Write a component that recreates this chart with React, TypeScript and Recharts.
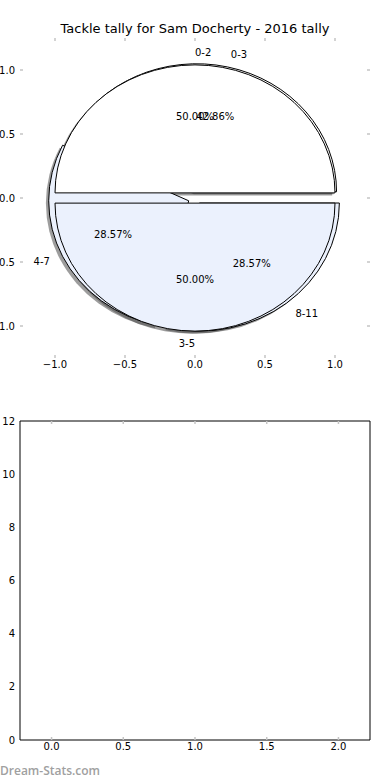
import React from 'react';
import { PieChart, Pie, Cell, ComposedChart, XAxis, YAxis, Bar } from 'recharts';

// pie 1 (drawn on top) and pie 2 (underneath)
const innerNames = ['0-2', '3-5'];
const innerValues = [1, 1];
const outerNames = ['0-3', '4-7', '8-11'];
const outerValues = [3, 2, 2];
const pieTicks = [-1, -0.5, 0, 0.5, 1];

// empty bar panel
const barCategories = [0, 1, 2];
const barValues = [0, 0, 0];
const barXTicks = [0, 0.5, 1, 1.5, 2];
const barYTicks = [0, 2, 4, 6, 8, 10, 12];

const innerData = innerNames.map((name, i) => ({ name, value: innerValues[i] }));
const outerData = outerNames.map((name, i) => ({ name, value: outerValues[i] }));
const barData = barCategories.map((x, i) => ({ x, value: barValues[i] }));
const pieAxisData = pieTicks.map((t) => ({ t }));

const innerColors = ['#ffffff', '#ebf1fd'];
const outerColors = ['#ffffff', '#ebf1fd', '#ebf1fd'];
const innerExplode = 0.04;
const outerExplode = 0.05;

const FONT = '"DejaVu Sans", sans-serif';
const TICK_GREY = '#c4c4c4';
// the pie axes are not square: 140px per unit across, 128px per unit up
const Y_RATIO = 128 / 140;
const RAD = Math.PI / 180;

const fmt1 = (v: number) => v.toFixed(1).replace('-', '\u2212');

function makeWedge(explode: number, shadow: boolean) {
  return (props: any) => {
    const { cx, cy, outerRadius: r, startAngle, endAngle, fill } = props;
    const ry = r * Y_RATIO;
    const mid = ((startAngle + endAngle) / 2) * RAD;
    let ox = cx + explode * r * Math.cos(mid);
    let oy = cy - explode * ry * Math.sin(mid);
    if (shadow) {
      ox -= 0.02 * r;
      oy += 0.02 * ry;
    }
    const a0 = startAngle * RAD;
    const a1 = endAngle * RAD;
    const x0 = ox + r * Math.cos(a0);
    const y0 = oy - ry * Math.sin(a0);
    const x1 = ox + r * Math.cos(a1);
    const y1 = oy - ry * Math.sin(a1);
    const large = endAngle - startAngle > 180 ? 1 : 0;
    const d = `M${ox},${oy} L${x0},${y0} A${r},${ry} 0 ${large} 0 ${x1},${y1} Z`;
    if (shadow) {
      return <path d={d} fill="#4d4d4d" fillOpacity={0.55} stroke="none" />;
    }
    return <path d={d} fill={fill} stroke="#000" strokeWidth={1} strokeLinejoin="round" />;
  };
}

function makeLabel(explode: number) {
  return (props: any) => {
    const { cx, cy, outerRadius: r, midAngle, percent, name } = props;
    const ry = r * Y_RATIO;
    const c = Math.cos(midAngle * RAD);
    const s = Math.sin(midAngle * RAD);
    const lx = cx + (1.1 + explode) * r * c;
    const ly = cy - (1.1 + explode) * ry * s;
    const px = cx + (0.6 + explode) * r * c;
    const py = cy - (0.6 + explode) * ry * s;
    return (
      <g>
        <text x={lx} y={ly} textAnchor={c > 0 ? 'start' : 'end'} dominantBaseline="central"
          fontSize={10} fontFamily={FONT} fill="#000">
          {name}
        </text>
        <text x={px} y={py} textAnchor="middle" dominantBaseline="central"
          fontSize={10} fontFamily={FONT} fill="#000">
          {(percent * 100).toFixed(2)}%
        </text>
      </g>
    );
  };
}

const nothing = () => <g />;

function PieAxes() {
  const tick = { fontSize: 10, fill: '#000', fontFamily: FONT };
  const grey = { stroke: TICK_GREY, strokeWidth: 1.5 };
  return (
    <ComposedChart width={390} height={400} data={pieAxisData} margin={{ top: 38, right: 20, bottom: 0, left: 0 }}>
      <XAxis xAxisId="b" dataKey="t" type="number" domain={[-1.25, 1.25]} ticks={pieTicks} tickFormatter={fmt1}
        height={42} axisLine={false} tickLine={false} tickSize={0} tickMargin={3} tick={tick} />
      <XAxis xAxisId="bt" dataKey="t" type="number" domain={[-1.25, 1.25]} ticks={pieTicks} mirror
        axisLine={false} tick={nothing} tickSize={3} tickLine={grey} />
      <XAxis xAxisId="t" dataKey="t" orientation="top" type="number" domain={[-1.25, 1.25]} ticks={pieTicks} mirror
        axisLine={false} tick={nothing} tickSize={3} tickLine={grey} />
      <YAxis yAxisId="l" dataKey="t" type="number" domain={[-1.25, 1.25]} ticks={pieTicks} tickFormatter={fmt1}
        width={20} axisLine={false} tickLine={false} tickSize={0} tickMargin={5} tick={tick} />
      <YAxis yAxisId="lt" dataKey="t" type="number" domain={[-1.25, 1.25]} ticks={pieTicks} mirror
        axisLine={false} tick={nothing} tickSize={3} tickLine={grey} />
      <YAxis yAxisId="r" dataKey="t" orientation="right" type="number" domain={[-1.25, 1.25]} ticks={pieTicks} mirror
        axisLine={false} tick={nothing} tickSize={3} tickLine={grey} />
    </ComposedChart>
  );
}

function Pies() {
  const common = { cx: 195, cy: 198, outerRadius: 140, dataKey: 'value', nameKey: 'name', startAngle: 0, endAngle: 360, isAnimationActive: false, labelLine: false } as const;
  return (
    <PieChart width={390} height={400} margin={{ top: 0, right: 0, bottom: 0, left: 0 }}>
      <Pie {...common} data={outerData} shape={makeWedge(outerExplode, true)} label={false} />
      <Pie {...common} data={innerData} shape={makeWedge(innerExplode, true)} label={false} />
      <Pie {...common} data={outerData} shape={makeWedge(outerExplode, false)} label={false}>
        {outerData.map((d, i) => <Cell key={d.name} fill={outerColors[i]} />)}
      </Pie>
      <Pie {...common} data={innerData} shape={makeWedge(innerExplode, false)} label={makeLabel(innerExplode)}>
        {innerData.map((d, i) => <Cell key={d.name} fill={innerColors[i]} />)}
      </Pie>
      <Pie {...common} data={outerData} shape={nothing} label={makeLabel(outerExplode)} />
    </PieChart>
  );
}

function EmptyBars() {
  const tick = { fontSize: 10, fill: '#000', fontFamily: FONT };
  const grey = { stroke: TICK_GREY, strokeWidth: 1.5 };
  const frame = { stroke: '#000', strokeWidth: 1 };
  return (
    <ComposedChart width={390} height={380} data={barData} margin={{ top: 21, right: 20, bottom: 0, left: 0 }}>
      <XAxis xAxisId="b" dataKey="x" type="number" domain={[-0.22, 2.22]} ticks={barXTicks} tickFormatter={fmt1}
        height={40} axisLine={frame} tickLine={false} tickSize={0} tickMargin={3} tick={tick} allowDataOverflow />
      <XAxis xAxisId="bt" dataKey="x" type="number" domain={[-0.22, 2.22]} ticks={barXTicks} mirror
        axisLine={false} tick={nothing} tickSize={3} tickLine={grey} allowDataOverflow />
      <XAxis xAxisId="t" dataKey="x" orientation="top" type="number" domain={[-0.22, 2.22]} ticks={barXTicks} mirror
        axisLine={frame} tick={nothing} tickSize={3} tickLine={grey} allowDataOverflow />
      <YAxis yAxisId="l" type="number" domain={[0, 12]} ticks={barYTicks}
        width={20} axisLine={frame} tickLine={false} tickSize={0} tickMargin={5} tick={tick} />
      <YAxis yAxisId="lt" type="number" domain={[0, 12]} ticks={barYTicks} mirror
        axisLine={false} tick={nothing} tickSize={3} tickLine={grey} />
      <YAxis yAxisId="r" orientation="right" type="number" domain={[0, 12]} ticks={barYTicks} mirror
        axisLine={frame} tick={nothing} tickSize={3} tickLine={grey} />
      <Bar xAxisId="b" yAxisId="l" dataKey="value" fill="#ebf1fd" barSize={80} isAnimationActive={false} />
    </ComposedChart>
  );
}

export default function App() {
  return (
    <div style={{ position: 'absolute', left: 0, top: 0, width: 390, height: 780, background: '#fff', fontFamily: FONT }}>
      <div style={{ position: 'absolute', left: 0, top: 21, width: 390, textAlign: 'center', fontSize: 13, color: '#000' }}>
        Tackle tally for Sam Docherty - 2016 tally
      </div>
      <div style={{ position: 'absolute', left: 0, top: 0 }}>
        <PieAxes />
      </div>
      <div style={{ position: 'absolute', left: 0, top: 0 }}>
        <Pies />
      </div>
      <div style={{ position: 'absolute', left: 0, top: 400 }}>
        <EmptyBars />
      </div>
      <div style={{ position: 'absolute', left: 0, top: 762, fontSize: 12, fontWeight: 600, color: '#a0a0a0', fontFamily: '"Open Sans", sans-serif' }}>
        Dream-Stats.com
      </div>
    </div>
  );
}
